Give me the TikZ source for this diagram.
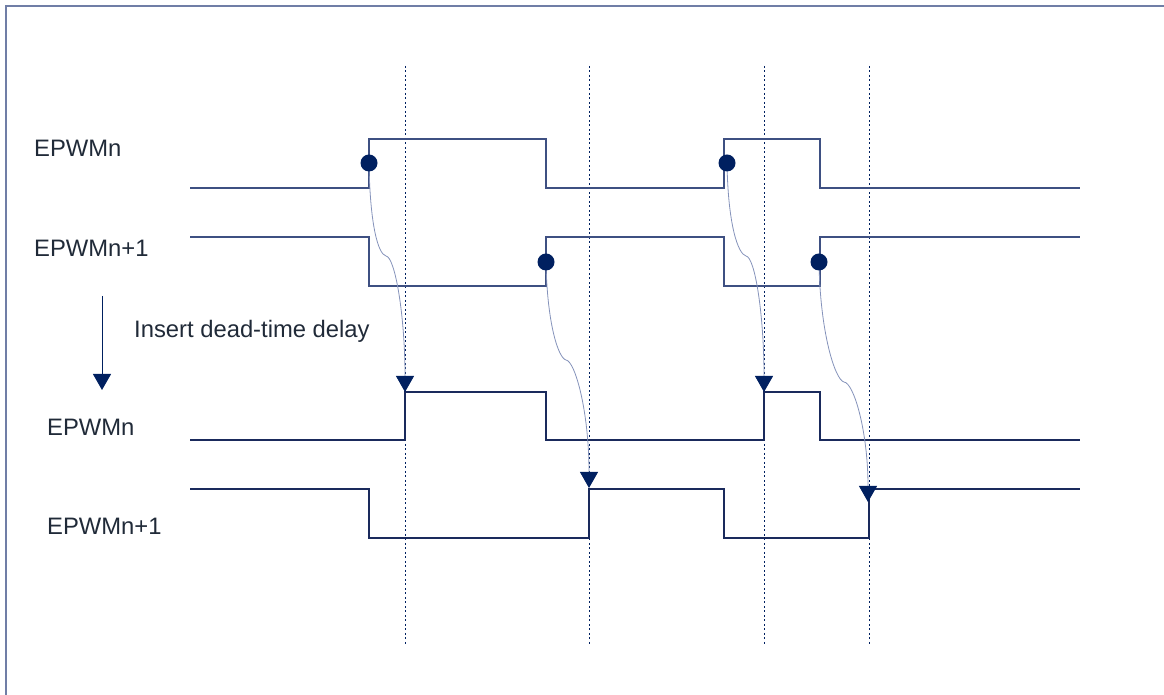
\documentclass[tikz,border=0pt]{standalone}
\usepackage{fontspec}
\setmainfont{Liberation Sans}
\usetikzlibrary{arrows.meta}

\definecolor{frameblue}{RGB}{112,126,166}
\definecolor{sigup}{RGB}{62,80,130}
\definecolor{siglow}{RGB}{26,42,92}
\definecolor{navy}{RGB}{0,32,96}
\definecolor{curveblue}{RGB}{132,146,186}
\definecolor{txt}{RGB}{32,42,56}

\tikzset{
  lbl/.style={anchor=base west,inner sep=0pt,text=txt,font=\fontsize{23.8}{28}\selectfont},
  wave/.style={line width=1.2pt},
  guide/.style={navy,line width=0.9pt,dash pattern=on 2pt off 2.5pt},
  edgedot/.style={circle,fill=navy,inner sep=0pt,minimum size=17pt},
  delay/.style={curveblue,line width=0.8pt,-{Triangle[length=16pt,width=18pt,color=navy]}}
}

\begin{document}
\begin{tikzpicture}[x=1pt,y=1pt]
\useasboundingbox (0,0) rectangle (1164,695);
\draw[frameblue,line width=2pt] (6,0) -- (6,688.5) -- (1164,688.5);

% dotted guide lines
\foreach \gx in {405,589,764,869}
  \draw[guide] (\gx,629) -- (\gx,49);

% labels
\node[lbl] (la) at (34,538) {EPWMn};
\node[lbl] (lb) at (34,438) {EPWMn+1};
\node[lbl] (lc) at (134,357) {Insert dead-time delay};
\node[lbl] (ld) at (47,259) {EPWMn};
\node[lbl] (le) at (47,160) {EPWMn+1};

% input waveforms
\draw[wave,sigup] (190,507) -- (369,507) -- (369,556) -- (546,556) -- (546,507)
  -- (724,507) -- (724,556) -- (820,556) -- (820,507) -- (1080,507);
\draw[wave,sigup] (190,458) -- (369,458) -- (369,409) -- (546,409) -- (546,458)
  -- (724,458) -- (724,409) -- (820,409) -- (820,458) -- (1080,458);

% delayed waveforms
\draw[wave,siglow] (190,255) -- (405,255) -- (405,303) -- (546,303) -- (546,255)
  -- (764,255) -- (764,303) -- (820,303) -- (820,255) -- (1080,255);
\draw[wave,siglow] (190,206) -- (369,206) -- (369,157) -- (589,157) -- (589,206)
  -- (724,206) -- (724,157) -- (869,157) -- (869,206) -- (1080,206);

% left arrow
\coordinate (ar0) at (102,399);
\coordinate (ar1) at (102,305);
\draw[navy,line width=0.9pt,-{Triangle[length=16pt,width=18pt]}] (ar0) -- (ar1);

% edges and their delayed counterparts
\coordinate (k1) at (386,439);
\coordinate (k2) at (566,335);
\coordinate (k3) at (746,439);
\coordinate (k4) at (844,313);
\coordinate (t1) at (405,303);
\coordinate (t2) at (589,207);
\coordinate (t3) at (764,303);
\coordinate (t4) at (868,193);
\draw[delay] (369,532) .. controls +(1,-62) and +(-8,2) .. (k1) .. controls +(9,-1) and +(0,77) .. (t1);
\draw[delay] (546,433) .. controls +(1,-60) and +(-8,2) .. (k2) .. controls +(9,-1) and +(0,77) .. (t2);
\draw[delay] (727,532) .. controls +(1,-62) and +(-8,2) .. (k3) .. controls +(9,-1) and +(0,77) .. (t3);
\draw[delay] (819,433) .. controls +(1,-70) and +(-9,2) .. (k4) .. controls +(10,-1) and +(0,70) .. (t4);

\node[edgedot] (d1) at (369,532) {};
\node[edgedot] (d2) at (546,433) {};
\node[edgedot] (d3) at (727,532) {};
\node[edgedot] (d4) at (819,433) {};
\end{tikzpicture}
\end{document}
